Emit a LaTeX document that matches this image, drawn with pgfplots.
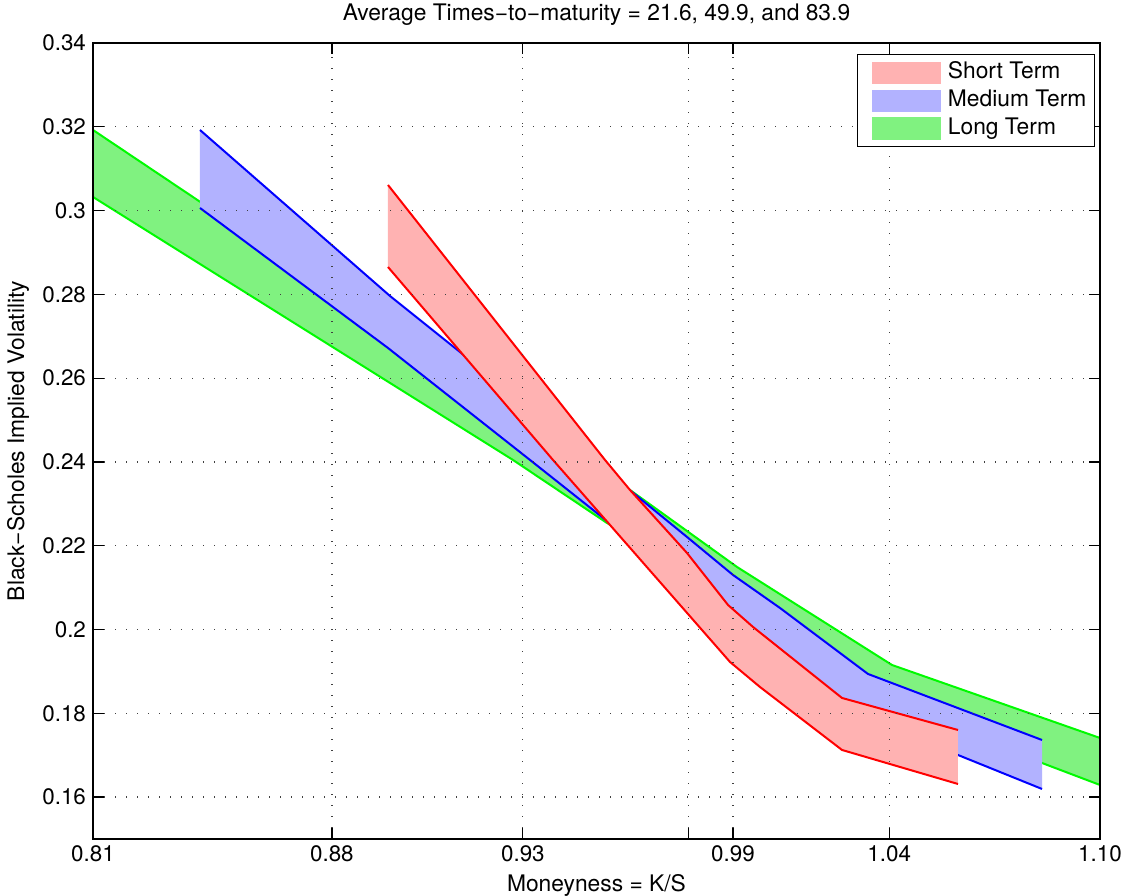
\documentclass[border=0pt]{standalone}
\usepackage{fontspec}
\setmainfont{TeX Gyre Heros}
\usepackage{pgfplots}
\pgfplotsset{compat=1.18}

\definecolor{shortfill}{RGB}{255,178,178}
\definecolor{medfill}{RGB}{178,178,255}
\definecolor{longfill}{RGB}{128,242,128}
\definecolor{shortline}{RGB}{255,0,0}
\definecolor{medline}{RGB}{0,0,255}
\definecolor{longline}{RGB}{0,250,0}

\newcommand{\labfont}{\fontsize{11.4}{13.6}\selectfont}
\newcommand{\legfont}{\fontsize{11.4}{13.6}\selectfont}
\newcommand{\tickfont}{\fontsize{11.2}{13.4}\selectfont}

\begin{document}
\begin{tikzpicture}
\begin{axis}[
    scale only axis,
    width=503.5pt, height=398pt,
    xmin=0.81, xmax=1.10,
    ymin=0.15, ymax=0.34,
    xtick={0.81,0.8788,0.9338,0.9814,0.9943,1.0393,1.10},
    xticklabels={0.81,0.88,0.93,{},0.99,1.04,1.10},
    ytick={0.16,0.18,0.20,0.22,0.24,0.26,0.28,0.30,0.32,0.34},
    yticklabels={0.16,0.18,0.2,0.22,0.24,0.26,0.28,0.3,0.32,0.34},
    tick label style={font=\tickfont},
    /pgf/number format/assume math mode=true,
    tick align=inside,
    tick pos=both,
    major tick length=5.5pt,
    every tick/.style={black, line width=0.6pt},
    axis line style={black, line width=0.6pt},
    grid=major,
    grid style={black!75, line width=0.6pt, dash pattern=on 0.6pt off 4.9pt},
    axis on top,
    title={Average Times−to−maturity = 21.6, 49.9, and 83.9},
    xlabel={Moneyness = K/S},
    ylabel={Black−Scholes Implied Volatility},
    every axis title/.style={at={(axis description cs:0.5,1.0352)}, anchor=center, font=\labfont},
    every axis x label/.style={at={(axis description cs:0.5,-0.0578)}, anchor=center, font=\labfont},
    every axis y label/.style={at={(axis description cs:-0.0745,0.5)}, rotate=90, anchor=center, font=\labfont},
    legend style={at={(0.995,0.9862)}, anchor=north east, draw=black, line width=0.6pt,
        fill=white, font=\legfont, inner xsep=4pt, inner ysep=3.6pt, row sep=2.8pt,
        nodes={inner sep=0pt, text height=0.75em, text depth=0.15em},
        /tikz/every odd column/.append style={column sep=3.5pt}},
    legend cell align=left,
]
\addlegendimage{legend image code/.code={\path (0pt,0pt); \fill[shortfill] (3pt,-5.25pt) rectangle (37pt,5.25pt);}}
\addlegendentry{Short Term}
\addlegendimage{legend image code/.code={\path (0pt,0pt); \fill[medfill] (3pt,-5.25pt) rectangle (37pt,5.25pt);}}
\addlegendentry{Medium Term}
\addlegendimage{legend image code/.code={\path (0pt,0pt); \fill[longfill] (3pt,-5.25pt) rectangle (37pt,5.25pt);}}
\addlegendentry{Long Term}

% long term band
\addplot[fill=longfill, draw=none, forget plot] coordinates {
    (0.81,0.31923) (0.96465,0.23330) (0.99546,0.21493) (1.04010,0.19153) (1.10,0.17411)
    (1.10,0.16289) (1.08330,0.16814) (1.04010,0.18318) (0.99431,0.20824) (0.95802,0.22543)
    (0.93095,0.24047) (0.81,0.30324)} --cycle;
\addplot[longline, line width=1pt, forget plot] coordinates {
    (0.81,0.31923) (0.96465,0.23330) (0.99546,0.21493) (1.04010,0.19153) (1.10,0.17411)};
\addplot[longline, line width=1pt, forget plot] coordinates {
    (0.81,0.30324) (0.93095,0.24047) (0.95802,0.22543) (0.99431,0.20824) (1.04010,0.18318)
    (1.08330,0.16814) (1.10,0.16289)};

% medium term band
\addplot[fill=medfill, draw=none, forget plot] coordinates {
    (0.84081,0.31923) (0.89553,0.27961) (0.91569,0.26624) (0.96522,0.23283) (0.98106,0.22209)
    (0.99431,0.21302) (1.00784,0.20514) (1.03319,0.18939) (1.08330,0.17363)
    (1.08330,0.16194) (1.05910,0.17005) (1.02800,0.17841) (1.00208,0.19750) (0.98481,0.20824)
    (0.95802,0.22590) (0.93585,0.24047) (0.89495,0.26720) (0.84081,0.30062)} --cycle;
\addplot[medline, line width=1pt, forget plot] coordinates {
    (0.84081,0.31923) (0.89553,0.27961) (0.91569,0.26624) (0.96522,0.23283) (0.98106,0.22209)
    (0.99431,0.21302) (1.00784,0.20514) (1.03319,0.18939) (1.08330,0.17363)};
\addplot[medline, line width=1pt, forget plot] coordinates {
    (0.84081,0.30062) (0.89495,0.26720) (0.93585,0.24047) (0.95802,0.22590) (0.98481,0.20824)
    (1.00208,0.19750) (1.02800,0.17841) (1.05910,0.17005) (1.08330,0.16194)};

% short term band
\addplot[fill=shortfill, draw=none, forget plot] coordinates {
    (0.89495,0.30611) (0.95745,0.24047) (0.96465,0.23330) (0.98106,0.21827) (0.99287,0.20586)
    (1.00007,0.20061) (1.02570,0.18366) (1.05910,0.17602)
    (1.05910,0.16313) (1.02570,0.17125) (1.00208,0.18628) (0.99345,0.19225)
    (0.95889,0.22495) (0.94247,0.24047) (0.89495,0.28653)} --cycle;
\addplot[shortline, line width=1pt, forget plot] coordinates {
    (0.89495,0.30611) (0.95745,0.24047) (0.96465,0.23330) (0.98106,0.21827) (0.99287,0.20586)
    (1.00007,0.20061) (1.02570,0.18366) (1.05910,0.17602)};
\addplot[shortline, line width=1pt, forget plot] coordinates {
    (0.89495,0.28653) (0.94247,0.24047) (0.95889,0.22495) (0.99345,0.19225)
    (1.00208,0.18628) (1.02570,0.17125) (1.05910,0.16313)};
\end{axis}
\pgfresetboundingbox
\path[use as bounding box] ([xshift=-46.5pt,yshift=-28.5pt]current axis.south west)
    rectangle ([xshift=14pt,yshift=21.5pt]current axis.north east);
\end{tikzpicture}
\end{document}
